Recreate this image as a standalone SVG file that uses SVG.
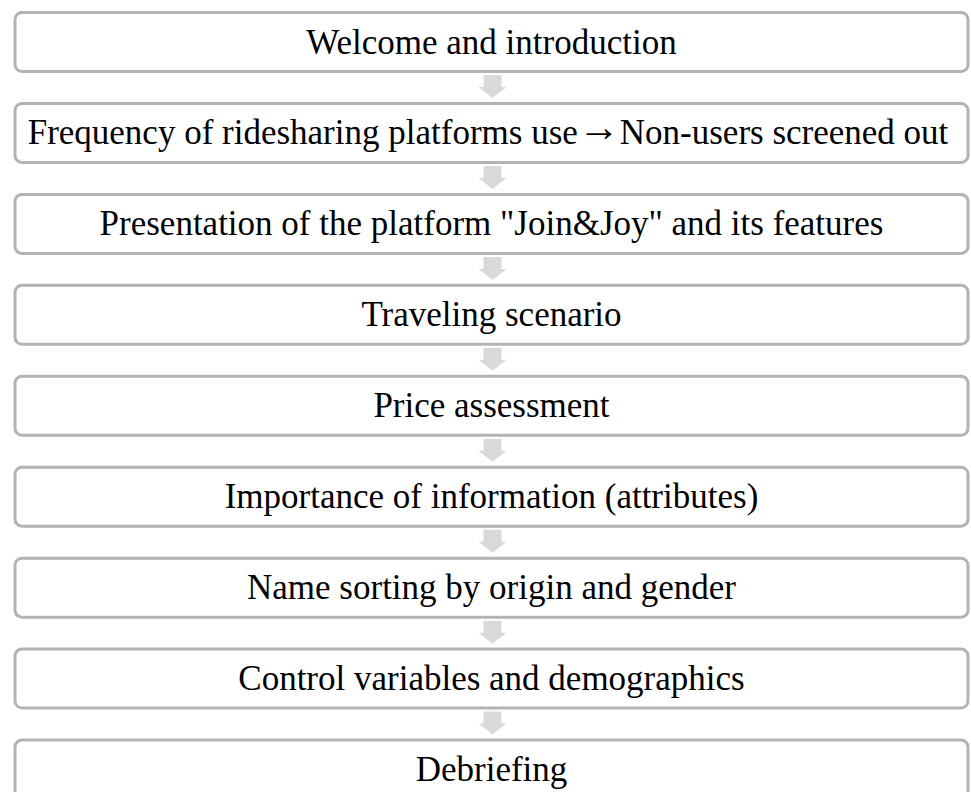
<svg xmlns="http://www.w3.org/2000/svg" width="971" height="792" viewBox="0 0 971 792">
<style>
.box{fill:#ffffff;stroke:#b3b3b3;stroke-width:3}
.lbl{font-family:"Liberation Serif","Times New Roman",serif;font-size:35px;fill:#000;text-anchor:middle}
.sym{font-size:42px}
.arr{fill:#d9d9d9}
</style>
<defs>
<path id="dn" d="M-9,0 H9 V12 H14 L0,23 L-14,12 H-9 Z"/>
</defs>
<rect width="971" height="792" fill="#ffffff"/>
<g id="connectors">
<use href="#dn" class="arr" x="492.5" y="75"/>
<use href="#dn" class="arr" x="492.5" y="165.94"/>
<use href="#dn" class="arr" x="492.5" y="256.88"/>
<use href="#dn" class="arr" x="492.5" y="347.82"/>
<use href="#dn" class="arr" x="492.5" y="438.76"/>
<use href="#dn" class="arr" x="492.5" y="529.7"/>
<use href="#dn" class="arr" x="492.5" y="620.64"/>
<use href="#dn" class="arr" x="492.5" y="711.58"/>
</g>
<g id="n1"><rect class="box" x="15" y="12.5" width="953" height="59" rx="7"/><text class="lbl" x="491.5" y="53.5">Welcome and introduction</text></g>
<g id="n2"><rect class="box" x="15" y="103.44" width="953" height="59" rx="7"/><text class="lbl" x="488" y="144.44">Frequency of ridesharing platforms use<tspan class="sym" dy="-3">→</tspan><tspan dy="3">Non-users screened out</tspan></text></g>
<g id="n3"><rect class="box" x="15" y="194.38" width="953" height="59" rx="7"/><text class="lbl" x="491.5" y="235.38">Presentation of the platform "Join&amp;Joy" and its features</text></g>
<g id="n4"><rect class="box" x="15" y="285.32" width="953" height="59" rx="7"/><text class="lbl" x="491.5" y="326.32">Traveling scenario</text></g>
<g id="n5"><rect class="box" x="15" y="376.26" width="953" height="59" rx="7"/><text class="lbl" x="491.5" y="417.26">Price assessment</text></g>
<g id="n6"><rect class="box" x="15" y="467.2" width="953" height="59" rx="7"/><text class="lbl" x="491.5" y="508.2">Importance of information (attributes)</text></g>
<g id="n7"><rect class="box" x="15" y="558.14" width="953" height="59" rx="7"/><text class="lbl" x="491.5" y="599.14">Name sorting by origin and gender</text></g>
<g id="n8"><rect class="box" x="15" y="649.08" width="953" height="59" rx="7"/><text class="lbl" x="491.5" y="690.08">Control variables and demographics</text></g>
<g id="n9"><rect class="box" x="15" y="740.02" width="953" height="59" rx="7"/><text class="lbl" x="491.5" y="781.02">Debriefing</text></g>
</svg>
